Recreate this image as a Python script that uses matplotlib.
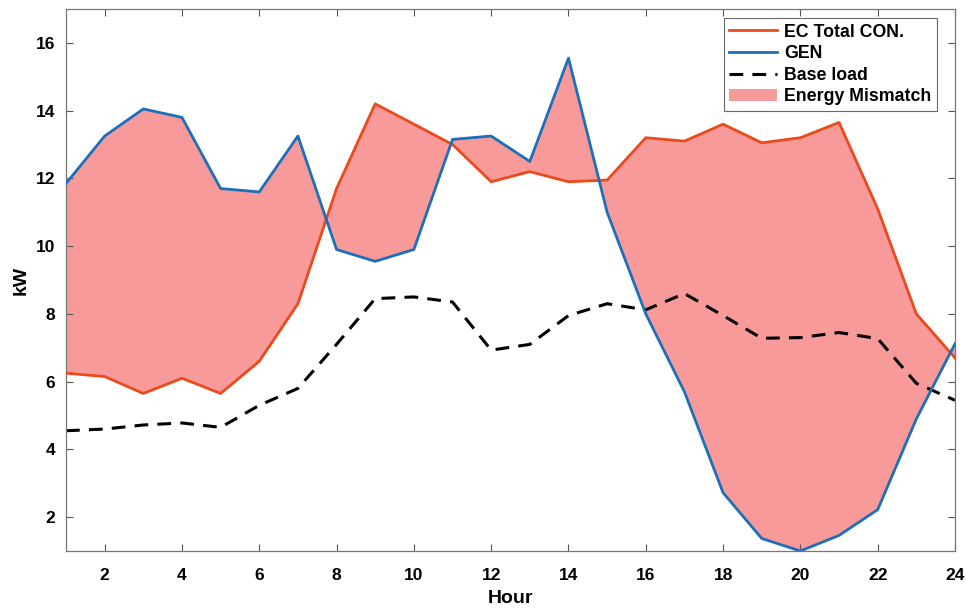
import matplotlib.pyplot as plt
import numpy as np

hours = np.arange(1, 25)

# total consumption of the energy community (kW)
ec_total = [6.25, 6.15, 5.65, 6.1, 5.65, 6.6, 8.3, 11.7, 14.2, 13.6, 13.0, 11.9,
            12.2, 11.9, 11.95, 13.2, 13.1, 13.6, 13.05, 13.2, 13.65, 11.1, 8.0, 6.7]
# generation (kW)
gen = [11.85, 13.25, 14.05, 13.8, 11.7, 11.6, 13.25, 9.9, 9.55, 9.9, 13.15, 13.25,
       12.5, 15.55, 11.0, 8.0, 5.7, 2.72, 1.37, 1.0, 1.46, 2.22, 4.9, 7.12]
# base load (kW)
base_load = [4.55, 4.6, 4.72, 4.78, 4.65, 5.3, 5.8, 7.1, 8.45, 8.5, 8.35, 6.93,
             7.1, 7.95, 8.3, 8.12, 8.6, 7.95, 7.28, 7.3, 7.45, 7.27, 5.95, 5.45]

plt.rcParams['font.family'] = ['Liberation Sans', 'DejaVu Sans']
plt.rcParams['font.weight'] = 'bold'
plt.rcParams['axes.labelweight'] = 'bold'

fig = plt.figure(figsize=(9.66, 6.10), dpi=100)
ax = fig.add_axes([66 / 966, 1 - 551 / 610, (955 - 66) / 966, (551 - 9) / 610])

ax.fill_between(hours, ec_total, gen, color='#f89a9a', linewidth=0, label='Energy Mismatch', zorder=1)
ax.plot(hours, ec_total, color='#ea4a1c', linewidth=2, label='EC Total CON.', zorder=3)
ax.plot(hours, gen, color='#1d6fba', linewidth=2, label='GEN', zorder=3)
ax.plot(hours, base_load, color='black', linewidth=2.2, linestyle=(0, (4.5, 3)), label='Base load', zorder=2)

ax.set_xlim(1, 24)
ax.set_ylim(1, 17)
ax.set_xticks(range(2, 25, 2))
ax.set_yticks(range(2, 17, 2))
ax.tick_params(direction='in', top=True, right=True, length=5, width=0.8,
               color='#555555', labelsize=12.5)
ax.tick_params(axis='x', pad=12)
ax.tick_params(axis='y', pad=8)
for lbl in ax.get_xticklabels() + ax.get_yticklabels():
    lbl.set_fontweight('bold')
for s in ax.spines.values():
    s.set_color('#777777')
    s.set_linewidth(0.9)

ax.set_xlabel('Hour', fontsize=14, labelpad=5)
ax.set_ylabel('kW', fontsize=14, labelpad=4)

handles, labels = ax.get_legend_handles_labels()
order = [1, 2, 3, 0]
leg = ax.legend([handles[i] for i in order], [labels[i] for i in order],
                loc='upper right', bbox_to_anchor=(0.9795, 0.983), fontsize=12.8,
                frameon=True, fancybox=False, edgecolor='#444444',
                handlelength=2.7, handletextpad=0.4, labelspacing=0.26,
                borderpad=0.3, borderaxespad=0)
leg.get_frame().set_linewidth(0.8)

fig.savefig('out.png', dpi=100)
